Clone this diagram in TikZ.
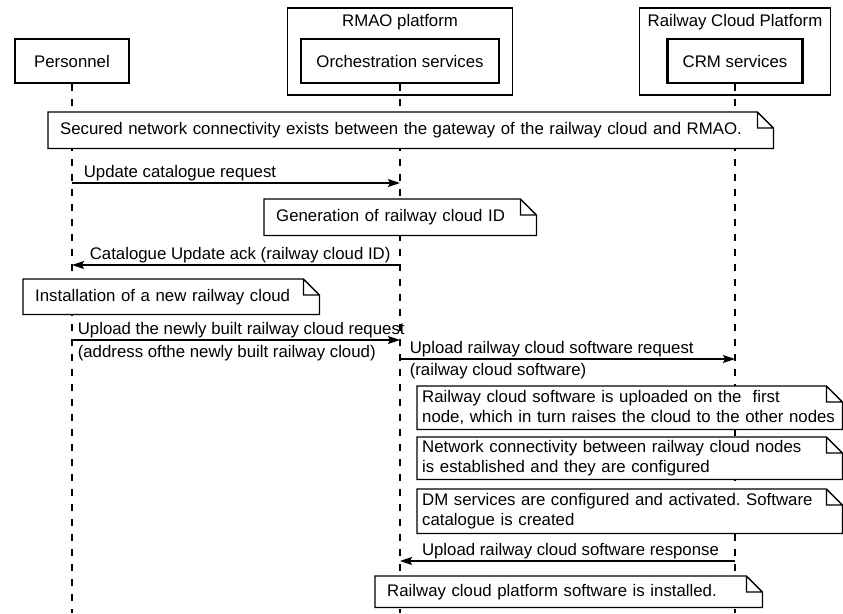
\documentclass[tikz,border=0pt]{standalone}
\usepackage{fontspec}
\setmainfont{Liberation Sans}
\frenchspacing
\usetikzlibrary{arrows.meta,positioning,calc}
\newcommand{\dogear}[1]{%
  \draw[fold] (#1.south west) -- (#1.north west) -- ([xshift=-16pt]#1.north east)
    -- ([yshift=-16pt]#1.north east) -- (#1.south east) -- cycle
    ([xshift=-16pt]#1.north east) |- ([yshift=-16pt]#1.north east);}

\begin{document}
\begin{tikzpicture}[x=1pt, y=-1pt,
  every node/.style={font=\fontsize{16.8}{20}\selectfont},
  actor/.style={draw, line width=2.6pt, minimum height=44pt, inner sep=2pt},
  group/.style={draw, line width=1.3pt, minimum height=87pt},
  grouptitle/.style={anchor=north, yshift=-5pt, inner sep=2pt},
  life/.style={line width=1.7pt, dash pattern=on 7pt off 8pt},
  msg/.style={-{Stealth[length=12pt, width=8pt, inset=2pt]}, line width=1.6pt},
  msglbl/.style={inner sep=0pt},
  note/.style={fill=white, anchor=north west, inner xsep=12pt, inner ysep=0pt, align=left},
  fold/.style={line width=1.3pt, line join=miter}
]
\useasboundingbox (0,0) rectangle (843,613);
\node[group, minimum width=225pt, label={[grouptitle]north:RMAO platform}] (rmao) at (400,51.5) {};
\node[group, minimum width=191pt, label={[grouptitle]north:Railway Cloud Platform}] (rcp) at (735,51.5) {};
\node[actor, minimum width=114pt] (per) at (72,61) {Personnel};
\node[actor, minimum width=198pt] (orch) at (400,61) {Orchestration services};
\node[actor, minimum width=135pt] (crm) at (735,61) {CRM services};
\coordinate (end) at (0,613);
\draw[life] (per.south) -- (per.south |- end);
\draw[life] (orch.south) -- (orch.south |- end);
\draw[life] (crm.south) -- (crm.south |- end);

\node[note, text width=701pt, minimum height=36pt] (secure) at (48,112)
  {Secured network connectivity exists between the gateway of the railway cloud and RMAO.};
\dogear{secure}
\coordinate (m1) at (0,183);
\draw[msg] (per |- m1) -- (orch |- m1)
  node[msglbl, pos=0, anchor=base west, xshift=11pt, yshift=6pt] {Update catalogue request};
\node[note, text width=248pt, minimum height=36pt] (genid) at (264,199) {Generation of railway cloud ID};
\dogear{genid}
\coordinate (m2) at (0,265);
\draw[msg] (orch |- m2) -- (per |- m2)
  node[msglbl, pos=1, anchor=base west, xshift=17pt, yshift=6pt] {Catalogue Update ack (railway cloud ID)};
\node[note, text width=272pt, minimum height=35pt] (install) at (23,279) {Installation of a new railway cloud};
\dogear{install}
\coordinate (m3) at (0,340);
\draw[msg] (per |- m3) -- (orch |- m3)
  node[msglbl, pos=0, anchor=base west, xshift=5pt, yshift=6pt] {Upload the newly built railway cloud request}
  node[msglbl, pos=0, anchor=base west, xshift=5pt, yshift=-17pt] {(address ofthe newly built railway cloud)};
\coordinate (m4) at (0,359);
\draw[msg] (orch |- m4) -- (crm |- m4)
  node[msglbl, pos=0, anchor=base west, xshift=9pt, yshift=6pt] {Upload railway cloud software request}
  node[msglbl, pos=0, anchor=base west, xshift=9pt, yshift=-16pt] {(railway cloud software)};
\node[note, inner xsep=5pt, text width=415pt, minimum height=43pt] (upl) at (417,386)
  {Railway cloud software is uploaded on the~ first\\node, which in turn raises the cloud to the other nodes};
\dogear{upl}
\node[note, inner xsep=5pt, text width=415pt, minimum height=42pt] (netw) at (417,437)
  {Network connectivity between railway cloud nodes\\is established and they are configured};
\dogear{netw}
\node[note, inner xsep=5pt, text width=415pt, minimum height=44pt] (dmsv) at (417,489)
  {DM services are configured and activated. Software\\catalogue is created};
\dogear{dmsv}
\coordinate (m5) at (0,561);
\draw[msg] (crm |- m5) -- (orch |- m5)
  node[msglbl, midway, anchor=base, xshift=3pt, yshift=6pt] {Upload railway cloud software response};
\node[note, text width=363pt, minimum height=31pt] (done) at (375,576) {Railway cloud platform software is installed.};
\dogear{done}
\end{tikzpicture}
\end{document}
